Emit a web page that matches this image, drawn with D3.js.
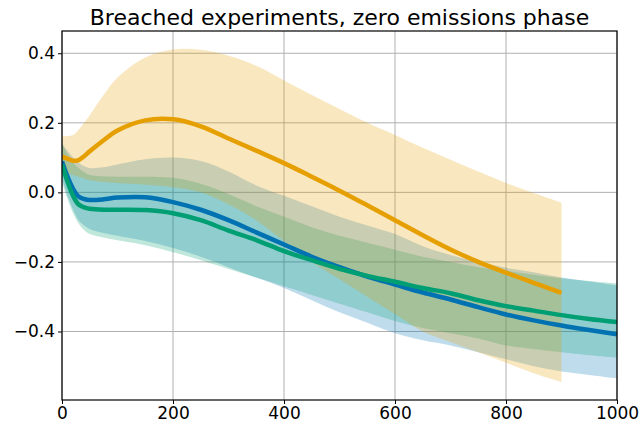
<!DOCTYPE html>
<html><head><meta charset="utf-8">
<script src="https://cdn.jsdelivr.net/npm/d3@7"></script>
<style>body{margin:0;background:#fff}svg{display:block}text{font-family:"DejaVu Sans",sans-serif}</style>
</head><body><svg id="c" width="643" height="424"></svg>
<script>
const title = "Breached experiments, zero emissions phase";
const years = [0,10,20,30,40,50,75,100,150,200,250,300,350,400,450,500,550,600,650,700,750,800,850,900,950,1000];
const xTicks = [0,200,400,600,800,1000];
const yTicks = [-0.4,-0.2,0.0,0.2,0.4];

const orangeMean  = [0.103,0.097,0.091,0.093,0.104,0.118,0.15,0.178,0.207,0.21,0.19,0.155,0.12,0.084,0.045,0.005,-0.037,-0.08,-0.123,-0.164,-0.2,-0.231,-0.26,-0.289];
const orangeUpper = [0.16,0.162,0.165,0.18,0.2,0.222,0.28,0.33,0.388,0.411,0.41,0.393,0.364,0.322,0.28,0.24,0.2,0.165,0.128,0.094,0.06,0.027,-0.002,-0.03];
const orangeLower = [0.06,0.055,0.05,0.045,0.04,0.035,0.03,0.027,0.022,0.015,0.0,-0.035,-0.08,-0.14,-0.2,-0.25,-0.3,-0.35,-0.4,-0.43,-0.46,-0.49,-0.52,-0.545];

const blueMean  = [0.089,0.045,0.01,-0.012,-0.019,-0.022,-0.02,-0.015,-0.014,-0.028,-0.05,-0.08,-0.115,-0.15,-0.185,-0.215,-0.242,-0.265,-0.288,-0.308,-0.33,-0.351,-0.368,-0.383,-0.396,-0.408];
const blueUpper = [0.14,0.12,0.1,0.085,0.075,0.07,0.072,0.08,0.095,0.1,0.09,0.06,0.02,-0.01,-0.04,-0.07,-0.095,-0.12,-0.155,-0.18,-0.2,-0.217,-0.23,-0.245,-0.256,-0.267];
const blueLower = [0.04,-0.01,-0.05,-0.08,-0.095,-0.105,-0.117,-0.125,-0.14,-0.16,-0.185,-0.215,-0.245,-0.275,-0.31,-0.345,-0.375,-0.405,-0.425,-0.44,-0.46,-0.48,-0.5,-0.515,-0.525,-0.535];

const greenMean  = [0.08,0.03,-0.01,-0.035,-0.043,-0.047,-0.05,-0.05,-0.051,-0.06,-0.08,-0.11,-0.137,-0.169,-0.195,-0.22,-0.24,-0.257,-0.275,-0.29,-0.31,-0.327,-0.34,-0.353,-0.364,-0.373];
const greenUpper = [0.14,0.11,0.085,0.07,0.058,0.05,0.046,0.045,0.045,0.042,0.025,-0.005,-0.04,-0.07,-0.1,-0.125,-0.145,-0.165,-0.185,-0.2,-0.215,-0.225,-0.237,-0.247,-0.255,-0.262];
const greenLower = [0.03,-0.02,-0.06,-0.09,-0.108,-0.12,-0.13,-0.138,-0.152,-0.172,-0.195,-0.22,-0.245,-0.27,-0.295,-0.32,-0.345,-0.37,-0.39,-0.405,-0.42,-0.44,-0.45,-0.46,-0.468,-0.475];

const series = [
  {color:"#0072B2", mean:blueMean, upper:blueUpper, lower:blueLower},
  {color:"#009E73", mean:greenMean, upper:greenUpper, lower:greenLower},
  {color:"#E69F00", mean:orangeMean, upper:orangeUpper, lower:orangeLower}
];

const svg = d3.select("#c");
const L=62, R=617, T=31, B=400;
const x = d3.scaleLinear().domain([0,1000]).range([L,R]);
const y = d3.scaleLinear().domain([-0.597,0.464]).range([B,T]);

const g = svg.append("g");
g.selectAll(".gx").data(xTicks).join("line").attr("x1",d=>x(d)).attr("x2",d=>x(d)).attr("y1",T).attr("y2",B).attr("stroke","#b0b0b0").attr("stroke-width",1);
g.selectAll(".gy").data(yTicks).join("line").attr("y1",d=>y(d)).attr("y2",d=>y(d)).attr("x1",L).attr("x2",R).attr("stroke","#b0b0b0").attr("stroke-width",1);

svg.append("clipPath").attr("id","clp").append("rect").attr("x",L).attr("y",T).attr("width",R-L).attr("height",B-T);
const plot = svg.append("g").attr("clip-path","url(#clp)");

const curve = d3.curveCatmullRom.alpha(0.5);
const area = d3.area().x(d=>x(d.t)).y0(d=>y(d.lo)).y1(d=>y(d.hi)).curve(curve);
const line = d3.line().x(d=>x(d.t)).y(d=>y(d.v)).curve(curve);

series.forEach(s=>{
  const data = s.mean.map((v,i)=>({t:years[i], lo:s.lower[i], hi:s.upper[i]}));
  plot.append("path").datum(data).attr("d",area).attr("fill",s.color).attr("fill-opacity",0.25).attr("stroke","none");
});
series.forEach(s=>{
  const data = s.mean.map((v,i)=>({t:years[i], v:v}));
  plot.append("path").datum(data).attr("d",line).attr("fill","none").attr("stroke",s.color).attr("stroke-width",4.5).attr("stroke-linecap","butt");
});

const ax = svg.append("g").attr("transform",`translate(0,${B})`).call(d3.axisBottom(x).tickValues(xTicks).tickFormat(d3.format("d")).tickSize(4).tickPadding(3));
const ay = svg.append("g").attr("transform",`translate(${L},0)`).call(d3.axisLeft(y).tickValues(yTicks).tickFormat(d=>d3.format(".1f")(d).replace("-","\u2212")).tickSize(4).tickPadding(3));
[ax,ay].forEach(a=>{a.select(".domain").remove(); a.selectAll("text").attr("font-size",17).attr("fill","#000").attr("font-family","DejaVu Sans"); a.selectAll("line").attr("stroke","#000").attr("stroke-width",1);});
svg.append("rect").attr("x",L).attr("y",T).attr("width",R-L).attr("height",B-T).attr("fill","none").attr("stroke","#000").attr("stroke-width",1.2);

svg.append("text").attr("x",(L+R)/2).attr("y",T-6).attr("text-anchor","middle").attr("font-size",22).attr("fill","#000").text(title);
</script></body></html>
